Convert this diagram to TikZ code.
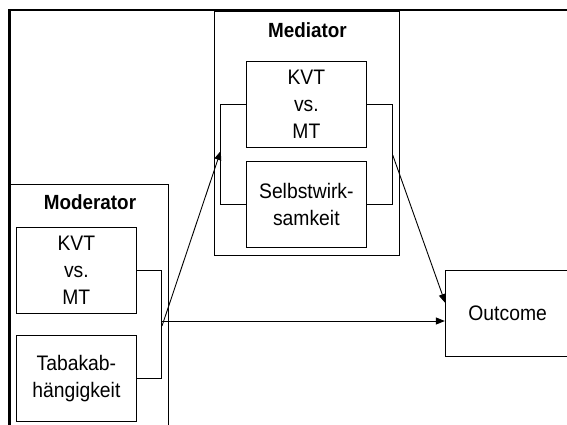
\documentclass[tikz,border=0pt]{standalone}
\usepackage{fontspec}
\setmainfont[FakeStretch=0.92]{Liberation Sans}
\usetikzlibrary{arrows.meta}
\begin{document}
\begin{tikzpicture}[x=1pt,y=-1pt,
  box/.style={draw,line width=0.9pt,minimum width=119.3pt,minimum height=86pt,inner sep=0pt,align=center,font=\fontsize{21}{27}\selectfont},
  grp/.style={draw,line width=0.9pt,inner sep=0pt},
  lbl/.style={font=\fontsize{20.5}{24}\selectfont\bfseries,anchor=base,inner sep=0pt},
  conn/.style={line width=0.9pt},
  arr/.style={line width=0.9pt,-{Triangle[length=9pt,width=7pt]}}]
\useasboundingbox (0,0) rectangle (567,425);
\clip (0,0) rectangle (567,425);
\fill[white] (0,0) rectangle (567,425);
% groups
\node[grp,minimum width=185pt,minimum height=244pt] (medgrp) at (306.7,133.8) {};
\node[grp,minimum width=158pt,minimum height=256pt] (modgrp) at (89,312) {};
% outer frame
\coordinate (fTR) at (580,10);
\coordinate (fTL) at (9.5,10);
\coordinate (fBL) at (9.5,440);
\draw[line width=2.5pt] (fTR) -- (fTL) -- (fBL);
% labels
\node[lbl] (medlbl) at (307.5,37.3) {Mediator};
\node[lbl] (modlbl) at (90,209.3) {Moderator};
% mediator boxes
\node[box] (medkvt) at (306.35,104.7) {KVT\\vs.\\MT};
\node[box] (selbst) at (306.35,204.5) {Selbstwirk-\\samkeit};
% moderator boxes
\node[box] (modkvt) at (76.35,270.3) {KVT\\vs.\\MT};
\node[box,minimum height=86.7pt] (tabak) at (76.35,378.35) {Tabakab-\\hängigkeit};
% outcome
\node[draw,line width=0.9pt,minimum width=124.7pt,minimum height=86pt,inner sep=0pt,font=\fontsize{21}{27}\selectfont] (outcome) at (507.65,313.7) {Outcome};
% connectors
\coordinate (mB) at (161.7,321);
\coordinate (mL) at (220.7,151);
\coordinate (mR) at (392.7,155);
\coordinate (oin) at (445.3,303);
\coordinate (dstart) at (162,326);
\draw[conn] (modkvt.east) -- (mB |- modkvt.east) -- (mB |- tabak.east) -- (tabak.east);
\draw[conn] (medkvt.west) -- (mL |- medkvt.west) -- (mL |- selbst.west) -- (selbst.west);
\draw[conn] (medkvt.east) -- (mR |- medkvt.east) -- (mR |- selbst.east) -- (selbst.east);
\draw[arr] (mB) -- (mB -| outcome.west);
\draw[arr] (dstart) -- (mL);
\draw[arr] (mR) -- (oin);
\end{tikzpicture}
\end{document}
